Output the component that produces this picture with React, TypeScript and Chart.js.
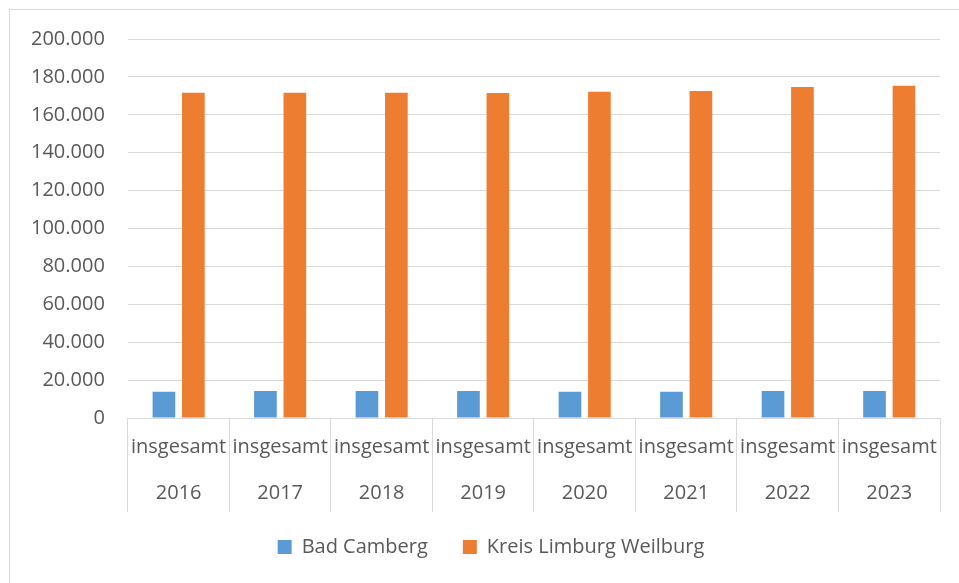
import React, { useEffect, useRef } from "react";
import { Chart, registerables } from "chart.js";

Chart.register(...registerables);

const years = ["2016", "2017", "2018", "2019", "2020", "2021", "2022", "2023"];
const subLabel = "insgesamt";
const badCamberg = [13900, 14200, 14200, 14200, 13900, 13900, 14200, 14200];
const kreisLimburgWeilburg = [171700, 171700, 171700, 171500, 172100, 172600, 174700, 175300];
const seriesNames = ["Bad Camberg", "Kreis Limburg Weilburg"];
const yTicks = { min: 0, max: 200000, step: 20000 };

const FONT = "'Open Sans', 'Noto Sans', sans-serif";
const TEXT = "#595959";
const GRID = "#d9d9d9";

function formatDE(v: number): string {
  const s = Math.round(v).toString();
  return s.replace(/\B(?=(\d{3})+(?!\d))/g, ".");
}

const legendShift = {
  id: "legendShift",
  afterLayout(chart: any) {
    const l = chart.legend;
    if (l) {
      l.left += 17;
      l.right += 17;
    }
  },
};

export default function App() {
  const ref = useRef<HTMLCanvasElement | null>(null);

  useEffect(() => {
    if (!ref.current) return;
    const chart = new Chart(ref.current, {
      type: "bar",
      data: {
        labels: years.map((y) => [subLabel, y]),
        datasets: [
          { label: seriesNames[0], data: badCamberg, backgroundColor: "#5b9bd5", borderWidth: 0 },
          { label: seriesNames[1], data: kreisLimburgWeilburg, backgroundColor: "#ed7d31", borderWidth: 0 },
        ],
      },
      plugins: [legendShift],
      options: {
        responsive: false,
        animation: false,
        devicePixelRatio: 1,
        layout: { padding: { left: 8, right: 19, top: 39, bottom: 16 } },
        datasets: { bar: { categoryPercentage: 0.58, barPercentage: 0.77 } },
        plugins: {
          tooltip: { enabled: false },
          legend: {
            position: "bottom",
            labels: { boxWidth: 14, boxHeight: 14, padding: 35, color: TEXT, font: { family: FONT, size: 20 } },
          },
        },
        scales: {
          x: {
            grid: { offset: true, drawOnChartArea: false, drawTicks: true, tickLength: 94, color: GRID, lineWidth: 1 },
            border: { display: true, color: GRID, width: 1 },
            ticks: {
              autoSkip: false, maxRotation: 0, minRotation: 0, padding: -88, color: TEXT,
              font: { family: FONT, size: 20, lineHeight: "46px" },
            },
            afterFit: (scale: any) => {
              scale.height = 84;
              scale.paddingLeft = 0;
              scale.paddingRight = 0;
            },
          },
          y: {
            min: yTicks.min, max: yTicks.max,
            grid: { color: GRID, lineWidth: 1, drawTicks: false },
            border: { display: false },
            ticks: {
              stepSize: yTicks.step, padding: 23, color: TEXT, font: { family: FONT, size: 20 },
              callback: (v: any) => formatDE(Number(v)),
            },
          },
        },
      },
    });
    return () => chart.destroy();
  }, []);

  return (
    <div style={{ position: "fixed", left: 0, top: 0, width: 959, height: 583, background: "#fff", overflow: "hidden" }}>
      <div style={{ position: "absolute", left: 9, top: 9, width: 1000, height: 700, border: "1px solid #d9d9d9" }} />
      <canvas ref={ref} width={959} height={583} style={{ position: "absolute", left: 0, top: 0 }} />
    </div>
  );
}
